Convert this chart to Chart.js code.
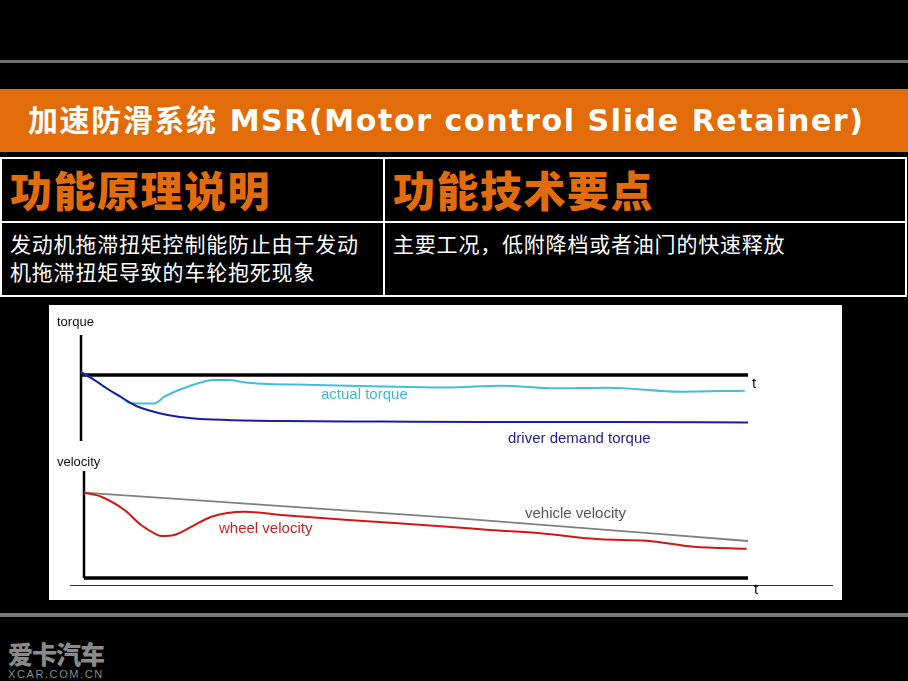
<!DOCTYPE html>
<html lang="zh-CN">
<head>
<meta charset="UTF-8">
<title>MSR</title>
<style>
    body {
        margin: 0;
        background: #000;
    }

    .slide {
        position: relative;
        width: 908px;
        height: 681px;
        background: #000;
        overflow: hidden;
        font-family: "DejaVu Sans", "Noto Sans CJK SC", sans-serif;
    }

    .rule {
        position: absolute;
        left: 0;
        width: 908px;
        height: 3px;
        background: #6e6e6e;
    }

    .band {
        position: absolute;
        left: 0;
        top: 89px;
        width: 908px;
        height: 63px;
        background: #e36c0a;
    }

    .band span {
        position: absolute;
        left: 28px;
        top: 0;
        line-height: 63px;
        color: #fff;
        font-weight: bold;
        font-size: 30px;
        letter-spacing: 1.6px;
        white-space: nowrap;
    }

    .cell {
        position: absolute;
        box-sizing: border-box;
        border: 2px solid #fff;
        color: #fff;
        font-family: "Noto Sans CJK SC", sans-serif;
    }

    .head {
        color: #e36c0a;
        font-weight: 900;
        font-size: 42px;
        line-height: 60px;
        padding-left: 8px;
        letter-spacing: 1.5px;
    }

    .body {
        font-size: 21px;
        line-height: 28px;
        padding: 6px 0 0 8px;
        letter-spacing: 0.8px;
    }

    .panel {
        position: absolute;
        left: 49px;
        top: 305px;
        width: 793px;
        height: 295px;
        background: #fff;
    }

    canvas {
        position: absolute;
        left: 49px;
    }

    .lbl {
        position: absolute;
        font-family: "Liberation Sans", Arial, sans-serif;
        font-size: 15px;
        line-height: 16px;
        white-space: nowrap;
    }

    .mark {
        position: absolute;
        color: #8a8a8a;
        font-family: "Noto Sans CJK SC", sans-serif;
    }
</style>
</head>
<body>
<div class="slide">
    <div class="rule" style="top: 60px;"></div>

    <div class="band"><span>加速防滑系统 MSR(Motor control Slide Retainer)</span></div>

    <!-- table -->
    <div class="cell head" style="left:0; top:157px; width:385px; height:66px;">功能原理说明</div>
    <div class="cell head" style="left:383px; top:157px; width:524px; height:66px;">功能技术要点</div>
    <div class="cell body" style="left:0; top:221px; width:385px; height:76px;">发动机拖滞扭矩控制能防止由于发动<br>机拖滞扭矩导致的车轮抱死现象</div>
    <div class="cell body" style="left:383px; top:221px; width:524px; height:76px;">主要工况，低附降档或者油门的快速释放</div>

    <div class="panel"></div>
    <canvas id="torqueChart" width="793" height="145" style="top:305px;"></canvas>
    <canvas id="velocityChart" width="793" height="150" style="top:450px;"></canvas>

    <div style="position:absolute; left:70px; top:585px; width:763px; height:1px; background:#333;"></div>

    <div class="lbl" style="left:57px; top:314px; font-size:13px; color:#111;">torque</div>
    <div class="lbl" style="left:57px; top:454px; font-size:13px; color:#111;">velocity</div>
    <div class="lbl" style="left:752px; top:375px; color:#111;">t</div>
    <div class="lbl" style="left:754px; top:581px; color:#111;">t</div>
    <div class="lbl" style="left:321px; top:386px; color:#3cb8d8;">actual torque</div>
    <div class="lbl" style="left:508px; top:430px; color:#1c1c9c;">driver demand torque</div>
    <div class="lbl" style="left:219px; top:520px; color:#cc2222;">wheel velocity</div>
    <div class="lbl" style="left:525px; top:505px; color:#555;">vehicle velocity</div>

    <div class="rule" style="top: 613px; height: 4px; background:#777;"></div>

    <div class="mark" style="left:8px; top:635px; font-size:25px; font-weight:900; letter-spacing:-1px;">爱卡汽车</div>
    <div class="mark" style="left:8px; top:668px; font-size:11px; font-family:'Liberation Sans',sans-serif; letter-spacing:1.6px;">XCAR.COM.CN</div>
</div>

<script src="https://cdn.jsdelivr.net/npm/chart.js"></script>
<script>
    // time axis runs 0..100 in both plots
    const demandT = [0, 2, 4, 6, 8, 10, 13, 17, 22, 30, 45, 60, 80, 100];
    const demandTorque = [3, -5, -14, -22, -30, -35, -40, -43.5, -45, -46, -46.5, -47, -47, -47.5];

    const actualT = [0, 2, 4, 6, 7.3, 11, 12.5, 16, 20, 22, 25, 35, 47.5, 55, 63, 71, 79, 90, 99.5];
    const actualTorque = [3, -5, -14, -22, -28, -28.5, -21.7, -11.7, -5, -5, -7.7, -10, -11.7, -12.5, -10.7, -13.3, -12.7, -16.7, -15.7];

    const wheelT = [0, 2.6, 6.1, 8.6, 10.6, 11.6, 13.6, 16.2, 19.2, 24.2, 29.7, 39.8, 54.8, 61.1, 68.7, 77.7, 84.7, 91.8, 99.8];
    const wheelVelocity = [85.3, 81.3, 68, 53, 44.7, 42, 43, 51.3, 61.3, 66.3, 63, 58, 51.3, 48, 44.7, 38.7, 37.3, 31.3, 29.3];

    const vehicleT = [0, 55, 100];
    const vehicleVelocity = [85.3, 60.3, 37];

    function pts(ts, vs) {
        return ts.map((t, i) => ({ x: t, y: vs[i] }));
    }

    // draws the two black axes through the origin of the data scales
    const axesPlugin = {
        id: 'axes',
        beforeDatasetsDraw(chart, args, opts) {
            const { ctx, chartArea, scales } = chart;
            const y0 = scales.y.getPixelForValue(0);
            const x0 = scales.x.getPixelForValue(0);
            ctx.save();
            ctx.strokeStyle = '#000';
            ctx.lineWidth = opts.hWidth;
            ctx.beginPath();
            ctx.moveTo(x0, y0);
            ctx.lineTo(chartArea.right, y0);
            ctx.stroke();
            ctx.lineWidth = opts.vWidth;
            ctx.beginPath();
            ctx.moveTo(x0, chartArea.top);
            ctx.lineTo(x0, chartArea.bottom);
            ctx.stroke();
            ctx.restore();
        }
    };

    function lineOpts(pad, yMin, yMax) {
        return {
            responsive: false,
            animation: false,
            layout: { padding: pad },
            plugins: {
                legend: { display: false },
                tooltip: { enabled: false },
                axes: { hWidth: 3.5, vWidth: 2.5 }
            },
            elements: { point: { radius: 0 } },
            scales: {
                x: { type: 'linear', min: 0, max: 100, display: false },
                y: { min: yMin, max: yMax, display: false }
            }
        };
    }

    new Chart(document.getElementById('torqueChart'), {
        type: 'line',
        data: {
            datasets: [{
                label: 'driver demand torque',
                data: pts(demandT, demandTorque),
                borderColor: '#1c1ca4',
                borderWidth: 2,
                cubicInterpolationMode: 'monotone'
            }, {
                label: 'actual torque',
                data: pts(actualT, actualTorque),
                borderColor: '#3fbfda',
                borderWidth: 2,
                cubicInterpolationMode: 'monotone'
            }]
        },
        options: lineOpts({ left: 32, right: 94, top: 30, bottom: 9 }, -66, 40),
        plugins: [axesPlugin]
    });

    new Chart(document.getElementById('velocityChart'), {
        type: 'line',
        data: {
            datasets: [{
                label: 'wheel velocity',
                data: pts(wheelT, wheelVelocity),
                borderColor: '#d01818',
                borderWidth: 2,
                cubicInterpolationMode: 'monotone'
            }, {
                label: 'vehicle velocity',
                data: pts(vehicleT, vehicleVelocity),
                borderColor: '#808080',
                borderWidth: 1.8,
                cubicInterpolationMode: 'monotone'
            }]
        },
        options: lineOpts({ left: 35, right: 94, top: 21, bottom: 22 }, 0, 107),
        plugins: [axesPlugin]
    });
</script>
</body>
</html>
